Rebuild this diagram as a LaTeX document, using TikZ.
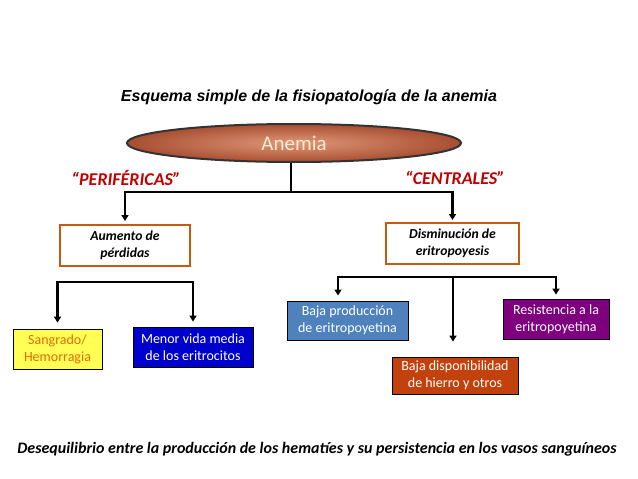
\documentclass[tikz,border=0pt]{standalone}
\usepackage{fontspec}
\setmainfont{Carlito}
\newfontfamily\arialf{Liberation Sans}
\usetikzlibrary{arrows.meta,shapes.geometric}
\definecolor{darkred}{HTML}{C00000}
\definecolor{obord}{HTML}{C55A11}
\definecolor{yell}{HTML}{FFFF55}
\definecolor{otext}{HTML}{E46C0A}
\definecolor{bblue}{HTML}{0000CC}
\definecolor{sblue}{HTML}{4F81BD}
\definecolor{purp}{HTML}{7F007F}
\definecolor{rorange}{HTML}{C2410C}
\definecolor{ellin}{HTML}{E09878}
\definecolor{ellout}{HTML}{A84E32}
\definecolor{cream}{HTML}{FBEBD0}
\tikzset{
  conn/.style={line width=2.5pt, black},
  arr/.style={conn, -{Triangle[width=7pt,length=6pt]}},
  outbox/.style={draw=obord, line width=2pt, fill=white, align=center, inner sep=0pt,
     font=\fontsize{13.7}{16.7}\selectfont\bfseries\itshape},
  fbox/.style={draw=black, line width=0.8pt, align=center, inner sep=0pt,
     font=\fontsize{14}{17}\selectfont},
  lbl/.style={text=darkred, font=\fontsize{18}{20}\selectfont\bfseries\itshape}
}
\begin{document}
\begin{tikzpicture}[x=1pt,y=-1pt]
\useasboundingbox (0,0) rectangle (638,479);
\fill[white] (0,0) rectangle (638,479);
% title
\node[font=\arialf\fontsize{16}{18}\selectfont\bfseries\itshape] (title) at (309,97) {Esquema simple de la fisiopatología de la anemia};
% ellipse
\node[ellipse, draw=black!80, line width=2pt, inner color=ellin, outer color=ellout,
      minimum width=334pt, minimum height=38pt, text=cream,
      font=\fontsize{21}{23}\selectfont] (anemia) at (294,143) {Anemia};
% labels
\node[lbl] (per) at (126,178) {“PERIFÉRICAS”};
\node[lbl] (cen) at (455,178) {“CENTRALES”};
% boxes
\node[outbox, minimum width=130pt, minimum height=41pt] (aum) at (125,245.5) {Aumento de\\pérdidas};
\node[outbox, minimum width=133pt, minimum height=41pt] (dis) at (452.5,243.5) {Disminución de\\eritropoyesis};
\node[fbox, fill=yell, text=otext, minimum width=89pt, minimum height=40pt] (sang) at (57.5,349) {Sangrado/\\Hemorragia};
\node[fbox, fill=bblue, text=white, minimum width=120pt, minimum height=40pt] (menor) at (193,347) {Menor vida media\\de los eritrocitos};
\node[fbox, fill=sblue, text=white, minimum width=121pt, minimum height=39pt] (baja) at (347.5,320.5) {Baja producción\\de eritropoyetina};
\node[fbox, fill=purp, text=white, minimum width=106pt, minimum height=40pt] (res) at (556,319) {Resistencia a la\\eritropoyetina};
\node[fbox, fill=rorange, text=white, minimum width=126pt, minimum height=37pt] (disp) at (455,375.5) {Baja disponibilidad\\de hierro y otros};
% bottom text
\node[font=\fontsize{16}{18}\selectfont\bfseries\itshape] (bottom) at (317,449) {Desequilibrio entre la producción de los hematíes y su persistencia en los vasos sanguíneos};
% connectors
\coordinate (jA) at (291,192);
\draw[conn] (jA |- anemia.south) -- (jA);
\draw[arr, shorten >=3pt] (jA) -| (aum.north);
\draw[arr, shorten >=2pt] (jA) -| (dis.north);
\coordinate (jL) at (124,282);
\draw[arr, shorten >=6pt] (jL) -| (sang.north);
\draw[arr, shorten >=5pt] (jL) -| (menor.north);
\coordinate (jR) at (453,277);
\coordinate (bajaT) at (338,300.5);
\draw[arr, shorten >=5pt] (jR) -| (bajaT);
\draw[arr, shorten >=4pt] (jR) -| (res.north);
\draw[arr, shorten >=15pt] (jR) -- (jR |- disp.north);
\end{tikzpicture}
\end{document}
